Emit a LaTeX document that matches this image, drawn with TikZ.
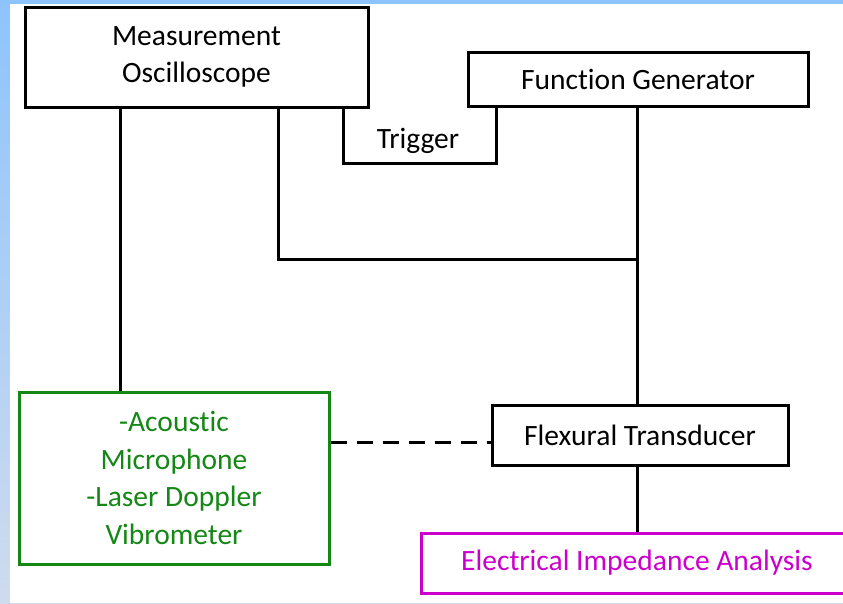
\documentclass[tikz,border=0pt]{standalone}
\usepackage{fontspec}
\setmainfont[Ligatures={NoCommon}]{Carlito}
\usetikzlibrary{calc}
\definecolor{bgtop}{RGB}{142,196,252}
\definecolor{bgbot}{RGB}{207,219,238}
\definecolor{grn}{RGB}{20,135,20}
\definecolor{mag}{RGB}{204,0,204}
\begin{document}
\begin{tikzpicture}[x=1pt,y=-1pt,
  box/.style={draw, line width=3pt, rectangle, inner sep=0pt, align=center,
    font=\fontsize{29.5}{37.5}\selectfont},
  lbl/.style={inner sep=0pt, font=\fontsize{29.5}{37.5}\selectfont},
  wire/.style={line width=3pt},
  dashwire/.style={line width=3pt, dash pattern=on 16pt off 10pt}]
\useasboundingbox (0,0) rectangle (843,603);
\shade[top color=bgtop,bottom color=bgbot] (0,0) rectangle (843,603);
\fill[white] (10,4) rectangle (843,603);
\node[box, minimum width=343pt, minimum height=100pt] (osc) at (196.5,57) {Measurement\\Oscilloscope};
\node[box, minimum width=340pt, minimum height=54pt] (fg) at (638,79) {Function Generator};
\node[box, minimum width=296pt, minimum height=60pt] (ft) at (640,435) {Flexural Transducer};
\node[box, draw=grn, text=grn, minimum width=310pt, minimum height=172pt] (sens) at (174,478) {-Acoustic\\Microphone\\-Laser Doppler\\Vibrometer};
\node[box, draw=mag, text=mag, minimum width=432pt, minimum height=60pt] (eia) at (637,563) {Electrical Impedance Analysis};
\node[lbl] (trig) at (418,141) {Trigger};
\coordinate (t1) at (343,163);
\coordinate (t2) at (496,163);
\coordinate (j) at (637,259);
\coordinate (k) at (278,259);
\coordinate (m) at (120,300);
\coordinate (d) at (0,442);
\draw[wire] (osc.south -| t1) -- (t1) -- (t2) -- (fg.south -| t2);
\draw[wire] (osc.south -| k) |- (j);
\draw[wire] (fg.south -| j) -- (ft.north -| j);
\draw[wire] (ft.south -| j) -- (eia.north -| j);
\draw[wire] (osc.south -| m) -- (sens.north -| m);
\draw[dashwire] (sens.east |- d) -- (ft.west |- d);
\end{tikzpicture}
\end{document}
